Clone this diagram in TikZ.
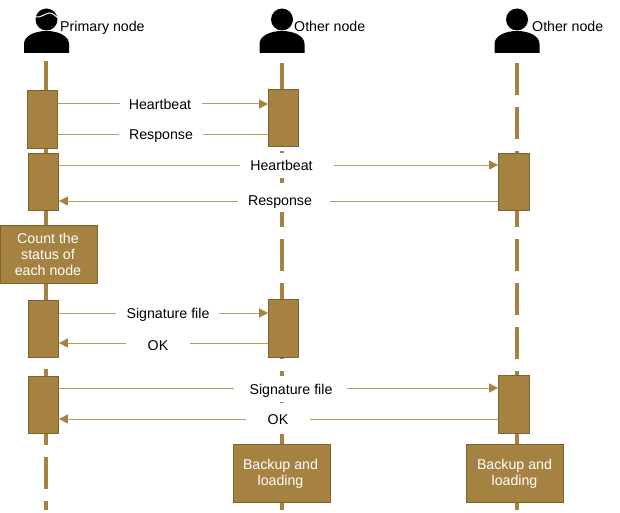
\documentclass[tikz,border=0pt]{standalone}
\usepackage{fontspec}
\setmainfont{Liberation Sans}
\usetikzlibrary{arrows.meta}
\definecolor{boxfill}{HTML}{A58242}
\definecolor{boxline}{HTML}{7F6430}
\definecolor{lifec}{HTML}{A58242}
\definecolor{msgc}{HTML}{B79C63}
\tikzset{
  lifeline/.style={draw=lifec,line width=4pt,dash pattern=on 32pt off 12pt},
  act/.style={draw=boxline,fill=boxfill,line width=.8pt,inner sep=0pt},
  note/.style={draw=boxline,fill=boxfill,line width=.8pt,inner sep=0pt,text=white,align=center,font=\fontsize{14.2}{16.2}\selectfont},
  msg/.style={draw=msgc,line width=1pt},
  msgarrow/.style={msg,-{Triangle[length=9pt,width=9pt,fill=lifec,color=lifec]}},
  lbl/.style={fill=white,inner sep=0pt,font=\fontsize{14.2}{17}\selectfont,text height=10pt,text depth=3pt},
  title/.style={inner sep=0pt,anchor=west,font=\fontsize{14.2}{17}\selectfont,text height=10pt,text depth=3pt},
  person/.style={fill=black,draw=none}
}
\newcommand{\personshape}[1]{%
  \fill[person] (#1,19.5) circle (11);
  \fill[person] (#1-22.5,53) -- (#1-22.5,44) .. controls (#1-22.5,36) and (#1-12,31) .. (#1,31)
     .. controls (#1+12,31) and (#1+22.5,36) .. (#1+22.5,44) -- (#1+22.5,53) -- cycle;
}
\begin{document}
\begin{tikzpicture}[x=1pt,y=-1pt]
\useasboundingbox (0,0) rectangle (620,513);
% lifelines
\coordinate (l0) at (46,61);   \coordinate (l1) at (46,510);
\coordinate (m0) at (282,63);  \coordinate (m1) at (282,510);
\coordinate (r0) at (517,63);  \coordinate (r1) at (517,510);
\draw[lifeline] (l0) -- (l1);
\draw[lifeline] (m0) -- (m1);
\draw[lifeline] (r0) -- (r1);
% persons
\personshape{46.5}
\draw[white,line width=1pt] (35.5,17) .. controls (41,18) and (45,13.5) .. (49,13) .. controls (53,12.5) and (55,16) .. (58,18);
\personshape{282}
\personshape{517}
\node[title] (t1) at (60,28.5) {Primary node};
\node[title] (t2) at (294,28.5) {Other node};
\node[title] (t3) at (532,28.5) {Other node};
% activation boxes
\node[act,minimum width=30pt,minimum height=58pt] (a1) at (42.5,119.5) {};
\node[act,minimum width=30pt,minimum height=57pt] (b1) at (283.5,118) {};
\node[act,minimum width=30pt,minimum height=57pt] (a2) at (43.5,182) {};
\node[act,minimum width=31pt,minimum height=57pt] (c2) at (514,182) {};
\node[note,minimum width=97pt,minimum height=58pt] (count) at (49,254.5) {\hspace*{-2pt}Count the\\\hspace*{-2pt}status of\\\hspace*{-2pt}each node};
\node[act,minimum width=30pt,minimum height=57pt] (a3) at (43.5,329) {};
\node[act,minimum width=30pt,minimum height=58pt] (b3) at (283.5,328.5) {};
\node[act,minimum width=30pt,minimum height=57pt] (a4) at (43.5,405) {};
\node[act,minimum width=31pt,minimum height=58pt] (c4) at (514,404.5) {};
\node[note,minimum width=97pt,minimum height=58pt] (bm) at (282,473.5) {\raisebox{-2pt}{\hspace*{-3pt}Backup and}\\\raisebox{-2pt}{\hspace*{-3pt}loading}};
\node[note,minimum width=97pt,minimum height=58pt] (br) at (515,473.5) {\raisebox{-2pt}{\hspace*{-1pt}Backup and}\\\raisebox{-2pt}{\hspace*{-1pt}loading}};
% labels
\node[lbl,minimum width=82pt,minimum height=20pt] (h1) at (161,104) {\raisebox{-2.5pt}{\hspace*{-2pt}Heartbeat}};
\node[lbl,minimum width=83pt,minimum height=20pt] (p1) at (161,135) {\raisebox{-1pt}{Response}};
\node[lbl,minimum width=94pt,minimum height=25pt] (h2) at (287,165.5) {\raisebox{-1pt}{\hspace*{-11pt}Heartbeat}};
\node[lbl,minimum width=92pt,minimum height=23pt] (p2) at (284,200.5) {\raisebox{-1pt}{\hspace*{-8pt}Response}};
\node[lbl,minimum width=103pt,minimum height=20pt] (s3) at (167.5,313) {\raisebox{-1.5pt}{\hspace*{1pt}Signature file}};
\node[lbl,minimum width=64pt,minimum height=20pt] (o3) at (158,344) {\raisebox{-3pt}{OK}};
\node[lbl,minimum width=113pt,minimum height=26pt] (s4) at (290.5,389) {\raisebox{-1.5pt}{\hspace*{1pt}Signature file}};
\node[lbl,minimum width=64pt,minimum height=30pt] (o4) at (278,418.5) {\raisebox{-2pt}{OK}};
% messages
\coordinate (y1) at (0,104); \coordinate (y2) at (0,135);
\coordinate (y3) at (0,165); \coordinate (y4) at (0,201);
\coordinate (y5) at (0,313); \coordinate (y6) at (0,343);
\coordinate (y7) at (0,388); \coordinate (y8) at (0,419);
\draw[msg] (a1.east |- y1) -- (h1.west |- y1);
\draw[msgarrow] (h1.east |- y1) -- (b1.west |- y1);
\draw[msg] (a1.east |- y2) -- (p1.west |- y2);
\draw[msg] (p1.east |- y2) -- (b1.west |- y2);
\draw[msg] (a2.east |- y3) -- (h2.west |- y3);
\draw[msgarrow] (h2.east |- y3) -- (c2.west |- y3);
\draw[msgarrow] (p2.west |- y4) -- (a2.east |- y4);
\draw[msg] (c2.west |- y4) -- (p2.east |- y4);
\draw[msg] (a3.east |- y5) -- (s3.west |- y5);
\draw[msgarrow] (s3.east |- y5) -- (b3.west |- y5);
\draw[msgarrow] (o3.west |- y6) -- (a3.east |- y6);
\draw[msg] (b3.west |- y6) -- (o3.east |- y6);
\draw[msg] (a4.east |- y7) -- (s4.west |- y7);
\draw[msgarrow] (s4.east |- y7) -- (c4.west |- y7);
\draw[msgarrow] (o4.west |- y8) -- (a4.east |- y8);
\draw[msg] (c4.west |- y8) -- (o4.east |- y8);
\end{tikzpicture}
\end{document}
